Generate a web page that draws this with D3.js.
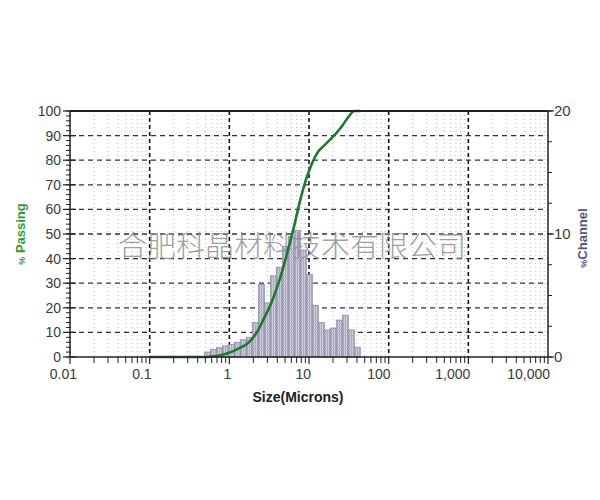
<!DOCTYPE html>
<html>
<head>
<meta charset="utf-8">
<script src="https://cdn.jsdelivr.net/npm/d3@7"></script>
<style>
  html, body { margin: 0; padding: 0; background: #fff; }
  svg { display: block; }
  text { font-family: "Liberation Sans", Arial, sans-serif; }
</style>
</head>
<body>
<svg id="chart" width="600" height="500"></svg>
<script>
// ---- data ----
const sizeTicks = [0.01, 0.1, 1, 10, 100, 1000, 10000];
const sizeTickLabels = ["0.01", "0.1", "1", "10", "100", "1,000", "10,000"];
const passingTicks = [0, 10, 20, 30, 40, 50, 60, 70, 80, 90, 100];
const channelTicks = [0, 10, 20];

// histogram channel edges (microns) and % channel per bin
const channelEdges = [0.49, 0.58, 0.69, 0.82, 0.97, 1.16, 1.38, 1.64, 1.94, 2.31, 2.75, 3.27, 3.89,
  4.62, 5.5, 6.54, 7.78, 9.25, 11, 13.08, 15.56, 18.5, 22, 26.16, 31.11, 37, 44];
const channelPercent = [0.4, 0.6, 0.75, 0.9, 1.0, 1.2, 1.4, 1.6, 2.8, 5.9, 4.4, 6.6, 7.3,
  9.0, 9.8, 10.3, 8.7, 6.7, 4.2, 2.8, 2.2, 2.35, 3.0, 3.4, 2.2, 0.8];

// cumulative % passing curve
const passingSize = [0.1, 0.2, 0.3, 0.4, 0.49, 0.58, 0.69, 0.82, 0.97, 1.16, 1.38, 1.64, 1.94, 2.31,
  2.75, 3.27, 3.89, 4.62, 5.5, 6.54, 7.78, 9.25, 11, 13.08, 15.56, 18.5, 22, 26.16, 31.11, 37, 44];
const passingPercent = [0, 0, 0, 0, 0, 0.15, 0.4, 0.9, 1.6, 2.6, 3.8, 5.2, 7.5, 11,
  16, 21, 27.5, 35, 44, 53.5, 64, 72.5, 79, 83.5, 86, 88.5, 91, 94, 97.5, 100, 100];

const watermark = "合肥科晶材料技术有限公司";

// ---- layout ----
const L = 70, R = 548, T = 111, B = 357;
const svg = d3.select("#chart");
svg.append("rect").attr("width", 600).attr("height", 500).attr("fill", "#fff");

const x = d3.scaleLog().domain([0.01, 10000]).range([L, R]);
const yP = d3.scaleLinear().domain([0, 100]).range([B, T]);
const yC = d3.scaleLinear().domain([0, 20]).range([B, T]);

// pattern for bars
const defs = svg.append("defs");
const pat = defs.append("pattern").attr("id", "hatch").attr("patternUnits", "userSpaceOnUse")
  .attr("width", 2).attr("height", 3);
pat.append("rect").attr("width", 2).attr("height", 3).attr("fill", "#d2d2e2");
pat.append("rect").attr("x", 1).attr("width", 1).attr("height", 3).attr("fill", "#a4a4bc");
pat.append("rect").attr("y", 2).attr("width", 2).attr("height", 1).attr("fill", "#b8b8cc");

// minor log values
const minorVals = [];
for (let e = -2; e < 4; e++) for (let m = 2; m <= 9; m++) minorVals.push(m * Math.pow(10, e));

// minor vertical grid (dotted)
svg.append("g").selectAll("line").data(minorVals).join("line")
  .attr("x1", d => x(d)).attr("x2", d => x(d)).attr("y1", T).attr("y2", B)
  .attr("stroke", "#bbbbbb").attr("stroke-width", 1).attr("stroke-dasharray", "1,3");

// major vertical grid (dashed)
svg.append("g").selectAll("line").data(sizeTicks.slice(1, -1)).join("line")
  .attr("x1", d => x(d)).attr("x2", d => x(d)).attr("y1", T).attr("y2", B)
  .attr("stroke", "#111").attr("stroke-width", 1.6).attr("stroke-dasharray", "4,3");

// horizontal grid (dashed)
svg.append("g").selectAll("line").data(passingTicks.slice(1, -1)).join("line")
  .attr("x1", L).attr("x2", R).attr("y1", d => yP(d)).attr("y2", d => yP(d))
  .attr("stroke", "#333").attr("stroke-width", 1.3).attr("stroke-dasharray", "5,4");

// bars
const bins = channelPercent.map((v, i) => ({ x0: channelEdges[i], x1: channelEdges[i + 1], v }));
svg.append("g").selectAll("rect").data(bins).join("rect")
  .attr("x", d => x(d.x0)).attr("width", d => x(d.x1) - x(d.x0))
  .attr("y", d => yC(d.v)).attr("height", d => yC(0) - yC(d.v))
  .attr("fill", "url(#hatch)").attr("stroke", "#8a8aa2").attr("stroke-width", 0.8);

// watermark
svg.append("text").text(watermark)
  .attr("x", 292).attr("y", 257).attr("text-anchor", "middle")
  .attr("font-weight", 300)
  .attr("font-size", 29).attr("fill", "#8e8e8e").attr("fill-opacity", 0.85)
  .style("font-family", "'Noto Sans CJK SC', sans-serif");

// cumulative line
const line = d3.line().x((d, i) => x(passingSize[i])).y((d) => yP(d)).curve(d3.curveMonotoneX);
svg.append("path").datum(passingPercent).attr("d", line)
  .attr("fill", "none").attr("stroke", "#1d7a2c").attr("stroke-width", 2.6);

// frame
svg.append("line").attr("x1", L).attr("x2", R).attr("y1", T).attr("y2", T)
  .attr("stroke", "#222").attr("stroke-width", 2);
svg.append("line").attr("x1", L).attr("x2", R).attr("y1", B).attr("y2", B)
  .attr("stroke", "#222").attr("stroke-width", 1.5);
svg.append("line").attr("x1", L).attr("x2", L).attr("y1", T).attr("y2", B)
  .attr("stroke", "#222").attr("stroke-width", 1.5);
svg.append("line").attr("x1", R).attr("x2", R).attr("y1", T).attr("y2", B)
  .attr("stroke", "#222").attr("stroke-width", 1.5);

// left axis ticks
const leftMinor = d3.range(0, 101, 2);
svg.append("g").selectAll("line").data(leftMinor).join("line")
  .attr("x1", L - 4).attr("x2", L + 1).attr("y1", d => yP(d)).attr("y2", d => yP(d))
  .attr("stroke", "#222").attr("stroke-width", 1);
svg.append("g").selectAll("line").data(passingTicks).join("line")
  .attr("x1", L - 7).attr("x2", L + 6).attr("y1", d => yP(d)).attr("y2", d => yP(d))
  .attr("stroke", "#222").attr("stroke-width", 1.2);
svg.append("g").selectAll("text").data(passingTicks).join("text")
  .attr("x", L - 9).attr("y", d => yP(d)).attr("dy", "0.35em")
  .attr("text-anchor", "end").attr("font-size", 14).attr("fill", "#3a3a3a").text(d => d);

// right axis ticks
const rightMinor = d3.range(0, 20.01, 2.5);
svg.append("g").selectAll("line").data(rightMinor).join("line")
  .attr("x1", R).attr("x2", R + 4).attr("y1", d => yC(d)).attr("y2", d => yC(d))
  .attr("stroke", "#222").attr("stroke-width", 1);
svg.append("g").selectAll("line").data(channelTicks).join("line")
  .attr("x1", R).attr("x2", R + 6).attr("y1", d => yC(d)).attr("y2", d => yC(d))
  .attr("stroke", "#222").attr("stroke-width", 1.2);
svg.append("g").selectAll("text").data(channelTicks).join("text")
  .attr("x", R + 6).attr("y", d => yC(d)).attr("dy", "0.36em")
  .attr("text-anchor", "start").attr("font-size", 15).attr("fill", "#3a3a3a").text(d => d);

// bottom axis ticks
svg.append("g").selectAll("line").data(minorVals).join("line")
  .attr("x1", d => x(d)).attr("x2", d => x(d)).attr("y1", B).attr("y2", B + 6)
  .attr("stroke", "#222").attr("stroke-width", 1);
svg.append("g").selectAll("line").data(sizeTicks).join("line")
  .attr("x1", d => x(d)).attr("x2", d => x(d)).attr("y1", B).attr("y2", B + 7)
  .attr("stroke", "#222").attr("stroke-width", 1.2);
svg.append("g").selectAll("text").data(sizeTicks).join("text")
  .attr("x", (d, i) => x(d) + (i === 0 ? 7 : 2)).attr("y", 379)
  .attr("text-anchor", "end").attr("font-size", 14).attr("fill", "#3a3a3a")
  .text((d, i) => sizeTickLabels[i]);

// axis titles
svg.append("text").attr("x", 298).attr("y", 402).attr("text-anchor", "middle")
  .attr("font-size", 14).attr("font-weight", "bold").attr("fill", "#222").text("Size(Microns)");

const lt = svg.append("text").attr("transform", "translate(25,234) rotate(-90)")
  .attr("text-anchor", "middle").attr("font-size", 13).attr("font-weight", "bold").attr("fill", "#2f9a35");
lt.append("tspan").attr("font-size", 9).text("%");
lt.append("tspan").text(" Passing");

const rt = svg.append("text").attr("transform", "translate(587,238) rotate(-90)")
  .attr("text-anchor", "middle").attr("font-size", 13).attr("font-weight", "bold").attr("fill", "#55557a");
rt.append("tspan").attr("font-size", 9).text("%");
rt.append("tspan").text("Channel");
</script>
</body>
</html>
